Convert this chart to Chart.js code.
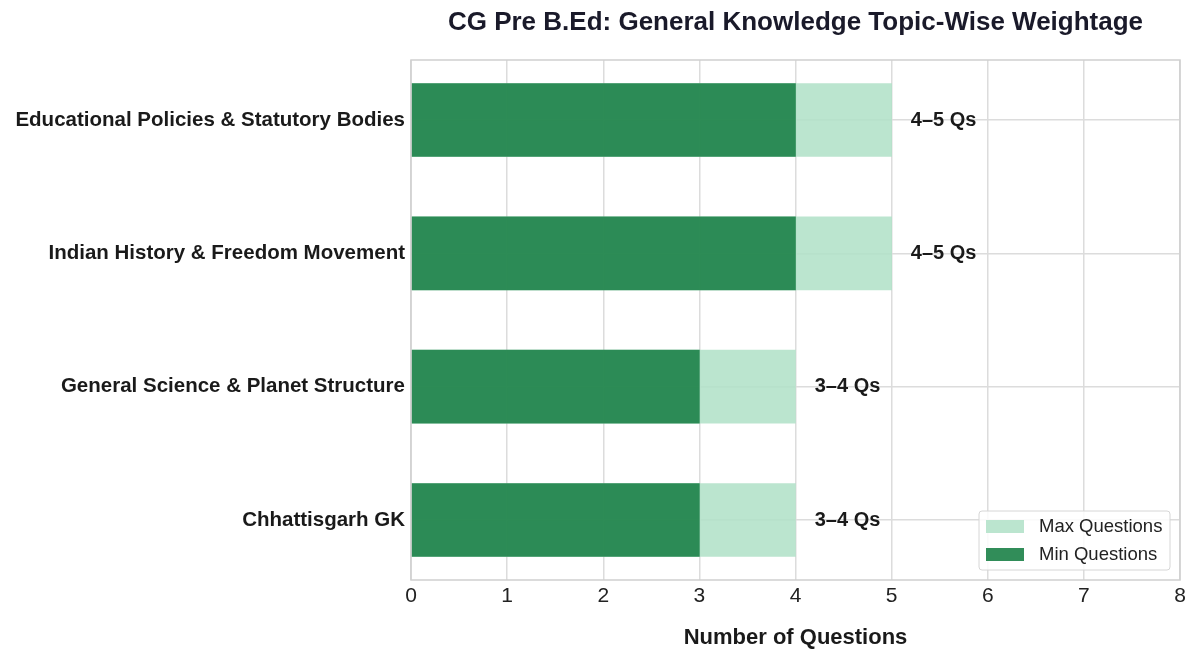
<!DOCTYPE html>
<html>
<head>
<meta charset="utf-8">
<script src="https://cdn.jsdelivr.net/npm/chart.js@4.4.1/dist/chart.umd.min.js"></script>
<style>
  html, body { margin: 0; padding: 0; background: #fff; }
  #wrap { width: 1200px; height: 661px; }
</style>
</head>
<body>
<div id="wrap"><canvas id="chart" width="1200" height="661"></canvas></div>
<script>
// Datos del gráfico
const topics = [
  'Educational Policies & Statutory Bodies',
  'Indian History & Freedom Movement',
  'General Science & Planet Structure',
  'Chhattisgarh GK'
];
const minQuestions = [4, 4, 3, 3];
const maxQuestions = [5, 5, 4, 4];
const rangeLabels = ['4–5 Qs', '4–5 Qs', '3–4 Qs', '3–4 Qs'];
const xTicks = [0, 1, 2, 3, 4, 5, 6, 7, 8];

const FONT = '"Liberation Sans", Arial, sans-serif';
const DARK = 'rgba(36,134,79,0.94)';
const LIGHT = 'rgba(178,225,200,0.88)';

// Título, borde, etiquetas y leyenda
const decorPlugin = {
  id: 'decor',
  beforeDatasetsDraw(chart) {
    const { ctx, chartArea: a } = chart;
    ctx.save();
    ctx.fillStyle = '#1a1a2a';
    ctx.font = 'bold 26px ' + FONT;
    ctx.textAlign = 'center';
    ctx.textBaseline = 'middle';
    ctx.fillText('CG Pre B.Ed: General Knowledge Topic-Wise Weightage', (a.left + a.right) / 2, 23);
    ctx.restore();
  },
  afterDatasetsDraw(chart) {
    const { ctx, chartArea: a, scales } = chart;
    ctx.save();
    // borde del área
    ctx.strokeStyle = '#cfcfcf';
    ctx.lineWidth = 1.5;
    ctx.strokeRect(a.left, a.top, a.right - a.left, a.bottom - a.top);

    // etiquetas de rango
    ctx.fillStyle = '#1a1a1a';
    ctx.font = 'bold 20px ' + FONT;
    ctx.textAlign = 'left';
    ctx.textBaseline = 'middle';
    topics.forEach((t, i) => {
      const x = scales.x.getPixelForValue(maxQuestions[i] + 0.2);
      const y = scales.y.getPixelForValue(i);
      ctx.fillText(rangeLabels[i], x, y);
    });

    // leyenda
    const lx = 979, ly = 511, lw = 191, lh = 59;
    ctx.fillStyle = 'rgba(255,255,255,0.85)';
    ctx.strokeStyle = '#d6d6d6';
    ctx.lineWidth = 1;
    ctx.beginPath();
    ctx.roundRect(lx, ly, lw, lh, 3);
    ctx.fill();
    ctx.stroke();
    const items = [
      { label: 'Max Questions', color: LIGHT },
      { label: 'Min Questions', color: DARK }
    ];
    ctx.font = '18.5px ' + FONT;
    items.forEach((it, k) => {
      const cy = ly + 15 + k * 28;
      ctx.fillStyle = it.color;
      ctx.fillRect(lx + 7, cy - 6, 38, 13);
      ctx.fillStyle = '#222';
      ctx.fillText(it.label, lx + 60, cy + 1);
    });
    ctx.restore();
  }
};

const chart = new Chart(document.getElementById('chart'), {
  type: 'bar',
  data: {
    datasets: [
      {
        label: 'Min Questions',
        data: minQuestions.map((v, i) => ({ x: v, y: i })),
        backgroundColor: DARK,
        barThickness: 73,
        grouped: false,
        order: 1
      },
      {
        label: 'Max Questions',
        data: maxQuestions.map((v, i) => ({ x: v, y: i })),
        backgroundColor: LIGHT,
        barThickness: 73,
        grouped: false,
        order: 2
      }
    ]
  },
  options: {
    indexAxis: 'y',
    responsive: false,
    animation: false,
    devicePixelRatio: 1,
    layout: { padding: { top: 60, right: 20, left: 0, bottom: 0 } },
    plugins: {
      legend: { display: false },
      title: { display: false },
      tooltip: { enabled: false }
    },
    scales: {
      x: {
        type: 'linear',
        min: 0,
        max: 8,
        afterBuildTicks(scale) {
          scale.ticks = xTicks.map(v => ({ value: v }));
        },
        grid: { color: '#dcdcdc', lineWidth: 1.5, drawTicks: false },
        border: { display: false },
        ticks: {
          color: '#222',
          font: { family: FONT, size: 21 },
          padding: 4
        },
        title: {
          display: true,
          text: 'Number of Questions',
          color: '#1a1a1a',
          font: { family: FONT, size: 22, weight: 'bold' },
          padding: { top: 0, bottom: 10 }
        },
        afterFit(scale) { scale.height = 81; }
      },
      y: {
        type: 'linear',
        reverse: true,
        offset: false,
        min: -0.45,
        max: 3.45,
        afterBuildTicks(scale) {
          scale.ticks = topics.map((t, i) => ({ value: i }));
        },
        grid: { color: '#dcdcdc', lineWidth: 1.5, drawTicks: false, offset: false },
        border: { display: false },
        ticks: {
          color: '#1a1a1a',
          font: { family: FONT, size: 20.5, weight: 'bold' },
          padding: 6,
          callback: v => topics[v]
        },
        afterFit(scale) { scale.width = 411; }
      }
    }
  },
  plugins: [decorPlugin]
});
</script>
</body>
</html>
